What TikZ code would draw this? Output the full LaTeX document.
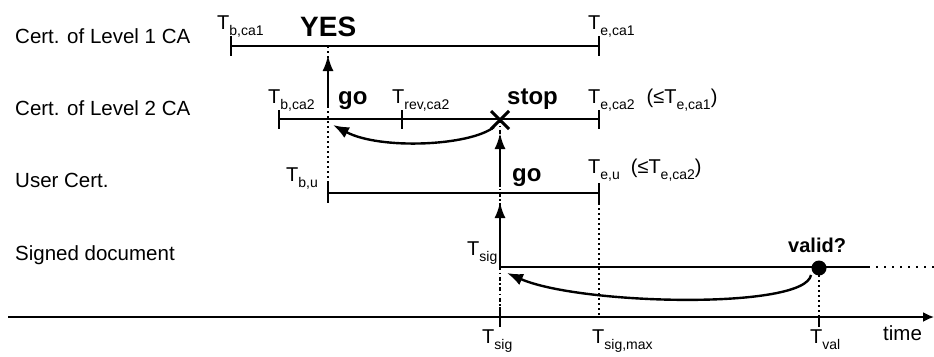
\documentclass[tikz,border=0pt]{standalone}
\usepackage{fontspec}
\setmainfont{Liberation Sans}
\usetikzlibrary{arrows.meta}
\newcommand{\Tl}[1]{T\raisebox{-6pt}{\fontsize{14}{14}\selectfont #1}}
\begin{document}
\begin{tikzpicture}[x=1pt,y=-1pt,
  lab/.style={inner sep=0pt, anchor=base west, font=\fontsize{20.5}{24}\selectfont},
  tl/.style={inner sep=0pt, anchor=base west, font=\fontsize{20}{24}\selectfont},
  bl/.style={inner sep=0pt, anchor=base west, font=\fontsize{24}{28}\selectfont\bfseries},
  span/.style={line width=1.4pt},
  dots/.style={line width=1.4pt, dash pattern=on 1.5pt off 3.5pt},
  enddots/.style={line width=1.4pt, dash pattern=on 1.5pt off 6.5pt},
  dashdot/.style={line width=1.4pt, dash pattern=on 4pt off 2.5pt on 1.5pt off 2.5pt},
  up/.style={line width=2.6pt, -{Latex[length=16pt,width=11pt]}},
  back/.style={line width=2.4pt, -{Latex[length=16pt,width=12pt]}},
  axis/.style={line width=1.8pt, -{Latex[length=11pt,width=10pt]}},
]
\useasboundingbox (0,0) rectangle (934,356);

% row labels
\node[lab] (r1) at (15,43) {Cert. of Level 1 CA};
\node[lab] (r2) at (15,115) {Cert. of Level 2 CA};
\node[lab] (r3) at (15,187) {User Cert.};
\node[lab] (r4) at (15,260) {Signed document};

% key coordinates
\coordinate (l1a) at (231,46);  \coordinate (l1b) at (599,46);
\coordinate (l2a) at (279,119); \coordinate (l2r) at (402,119); \coordinate (l2b) at (599,119);
\coordinate (ua) at (328,193);  \coordinate (ub) at (599,193);
\coordinate (sa) at (500,267);  \coordinate (ss) at (868,267); \coordinate (se) at (934,267);
\coordinate (ax0) at (8,317);   \coordinate (ax1) at (934,317);
\coordinate (cross) at (500,120);
\coordinate (val) at (819,268);

% dotted guides
\draw[dots] (328,46) -- (328,183);
\draw[dots] (599,203) -- (599,317);
\draw[dots] (819,275) -- (819,317);
\draw[dashdot] (500,119) -- (500,307);

% spans
\draw[span] (l1a) -- (l1b);
\draw[span] (231,36) -- (231,56) (599,36) -- (599,56);
\draw[span] (l2a) -- (l2b);
\draw[span] (279,110) -- (279,129) (402,110) -- (402,129) (599,110) -- (599,129);
\draw[span] (ua) -- (ub);
\draw[span] (328,183) -- (328,203) (599,183) -- (599,203);
\draw[span] (sa) -- (ss);
\draw[enddots] (ss) -- (se);

% time axis
\draw[axis] (ax0) -- (ax1);
\draw[span] (500,307) -- (500,327) (819,317) -- (819,327);

% vertical arrows
\draw[up] (328,107) -- (328,55);
\draw[up] (500,187) -- (500,133);
\draw[up] (sa) -- (500,202);

% cross and dot
\draw[line width=3pt] (491,111) -- (509,129) (491,129) -- (509,111);
\fill (val) circle (7.5pt);

% curved arrows
\draw[back] (494,127) .. controls (470,146) and (380,150) .. (333,125);
\draw[back] (811,275) .. controls (805,310) and (580,305) .. (507,273);

% T labels
\node[tl] (tbca1) at (217,29) {\Tl{b,ca1}};
\node[tl] (teca1) at (588,29) {\Tl{e,ca1}};
\node[tl] (tbca2) at (268,103) {\Tl{b,ca2}};
\node[tl] (trev) at (392,103) {\Tl{rev,ca2}};
\node[tl] (teca2) at (588,103) {\Tl{e,ca2}\hspace{12pt}(≤\Tl{e,ca1})};
\node[tl] (tbu) at (286,181) {\Tl{b,u}};
\node[tl] (teu) at (588,173) {\Tl{e,u}\hspace{11pt}(≤\Tl{e,ca2})};
\node[tl] (tsig) at (467,255) {\Tl{sig}};
\node[tl] (tsigb) at (482,343) {\Tl{sig}};
\node[tl] (tsigmax) at (592,343) {\Tl{sig,max}};
\node[tl] (tval) at (810,343) {\Tl{val}};
\node[lab] (time) at (883,340) {time};

% bold words
\node[inner sep=0pt, anchor=base west, font=\fontsize{28}{32}\selectfont\bfseries] (yes) at (300,36) {YES};
\node[bl] (go1) at (338,104) {go};
\node[bl] (stop) at (507,104) {stop};
\node[bl] (go2) at (512,181) {go};
\node[inner sep=0pt, anchor=base west, font=\fontsize{20}{24}\selectfont\bfseries] (valid) at (788,252) {valid?};
\end{tikzpicture}
\end{document}
